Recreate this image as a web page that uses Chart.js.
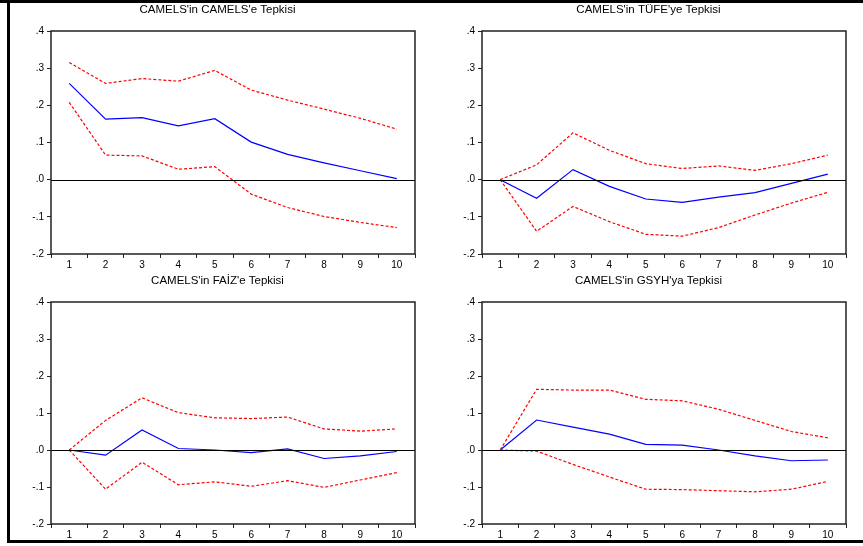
<!DOCTYPE html>
<html>
<head>
<meta charset="utf-8">
<script src="https://cdn.jsdelivr.net/npm/chart.js@4.4.1/dist/chart.umd.min.js"></script>
<style>
  html, body { margin: 0; padding: 0; background: #fff; overflow: hidden; }
  #page { position: relative; width: 863px; height: 546px; overflow: hidden; }
  #page canvas { position: absolute; }
  .frame { position: absolute; background: #000; }
</style>
</head>
<body>
<div id="page">
  <div class="frame" style="left:0;top:0;width:863px;height:3px"></div>
  <div class="frame" style="left:7px;top:0;width:3px;height:542px"></div>
  <div class="frame" style="left:7px;top:540px;width:856px;height:3px"></div>
  <canvas id="c1" style="left:20px;top:0px" width="426" height="273"></canvas>
  <canvas id="c2" style="left:451px;top:0px" width="426" height="273"></canvas>
  <canvas id="c3" style="left:20px;top:271px" width="426" height="272"></canvas>
  <canvas id="c4" style="left:451px;top:271px" width="426" height="272"></canvas>
</div>
<script>
// ---------------------------------------------------------
// DATA – impulse responses (point estimate + bands)
// ---------------------------------------------------------
const periods = ["1", "2", "3", "4", "5", "6", "7", "8", "9", "10"];

const camelsTitle = "CAMELS'in CAMELS'e Tepkisi";
const camelsResp  = [0.259, 0.163, 0.167, 0.145, 0.164, 0.101, 0.068, 0.045, 0.024, 0.003];
const camelsUpper = [0.315, 0.259, 0.272, 0.265, 0.294, 0.241, 0.214, 0.190, 0.165, 0.136];
const camelsLower = [0.208, 0.066, 0.064, 0.028, 0.035, -0.039, -0.075, -0.099, -0.115, -0.129];

const tufeTitle = "CAMELS'in TÜFE'ye Tepkisi";
const tufeResp  = [0, -0.050, 0.027, -0.018, -0.052, -0.061, -0.047, -0.035, -0.010, 0.015];
const tufeUpper = [0, 0.040, 0.126, 0.079, 0.043, 0.030, 0.037, 0.025, 0.043, 0.066];
const tufeLower = [0, -0.139, -0.072, -0.113, -0.147, -0.152, -0.129, -0.095, -0.063, -0.034];

const faizTitle = "CAMELS'in FAİZ'e Tepkisi";
const faizResp  = [0, -0.014, 0.054, 0.004, 0.000, -0.007, 0.003, -0.023, -0.016, -0.004];
const faizUpper = [0, 0.080, 0.141, 0.101, 0.087, 0.085, 0.089, 0.057, 0.051, 0.057];
const faizLower = [0, -0.106, -0.033, -0.094, -0.086, -0.098, -0.083, -0.101, -0.081, -0.061];

const gsyhTitle = "CAMELS'in GSYH'ya Tepkisi";
const gsyhResp  = [0, 0.081, 0.062, 0.043, 0.015, 0.013, 0.000, -0.016, -0.029, -0.027];
const gsyhUpper = [0, 0.164, 0.162, 0.162, 0.137, 0.133, 0.110, 0.080, 0.050, 0.033];
const gsyhLower = [0, -0.003, -0.039, -0.073, -0.106, -0.107, -0.110, -0.113, -0.106, -0.085];

const yTicks = [-0.2, -0.1, 0, 0.1, 0.2, 0.3, 0.4];

// ---------------------------------------------------------
// HELPERS
// ---------------------------------------------------------
const FONT = "Arial, 'Liberation Sans', sans-serif";

function fmtTick(v) {
  if (Math.abs(v) < 1e-9) return ".0";
  return v.toFixed(1).replace("0.", ".");
}

// box around plot area + zero line
const frameAndZero = {
  id: "frameAndZero",
  afterDatasetsDraw(chart) {
    const { ctx, chartArea: a, scales } = chart;
    const y0 = scales.y.getPixelForValue(0);
    ctx.save();
    ctx.strokeStyle = "#000";
    ctx.lineWidth = 1;
    ctx.beginPath();
    ctx.moveTo(a.left, Math.round(y0) + 0.5);
    ctx.lineTo(a.right, Math.round(y0) + 0.5);
    ctx.stroke();
    ctx.lineWidth = 1.5;
    ctx.strokeStyle = "#222";
    ctx.strokeRect(a.left, a.top, a.right - a.left, a.bottom - a.top);
    ctx.restore();
  }
};

function drawPanel(id, title, resp, upper, lower) {
  new Chart(document.getElementById(id), {
    type: "line",
    data: {
      labels: periods,
      datasets: [
        { data: upper, borderColor: "#ff0000", borderWidth: 1.2, borderDash: [3, 2] },
        { data: lower, borderColor: "#ff0000", borderWidth: 1.2, borderDash: [3, 2] },
        { data: resp, borderColor: "#0000ff", borderWidth: 1.2 }
      ]
    },
    options: {
      responsive: false,
      animation: false,
      elements: { point: { radius: 0 }, line: { tension: 0 } },
      layout: { padding: { left: 0, right: 31, top: 0, bottom: 0 } },
      plugins: {
        legend: { display: false },
        tooltip: { enabled: false },
        title: {
          display: true,
          text: title,
          color: "#000",
          font: { family: FONT, size: 11.5, weight: "normal", lineHeight: 1.2 },
          padding: { top: 2.5, bottom: 14.7 }
        }
      },
      scales: {
        x: {
          offset: true,
          grid: { offset: true, drawOnChartArea: false, tickLength: 4, color: "#222" },
          border: { display: false },
          ticks: { color: "#000", font: { family: FONT, size: 10 }, padding: 1, maxRotation: 0 },
          afterFit(s) { s.height = 19; }
        },
        y: {
          min: -0.2,
          max: 0.4,
          afterBuildTicks(s) { s.ticks = yTicks.map(v => ({ value: v })); },
          grid: { drawOnChartArea: false, tickLength: 4, color: "#222" },
          border: { display: false },
          ticks: { color: "#000", font: { family: FONT, size: 10 }, padding: 3, callback: v => fmtTick(v) },
          afterFit(s) { s.width = 31; }
        }
      }
    },
    plugins: [frameAndZero]
  });
}

// ---------------------------------------------------------
// INIT
// ---------------------------------------------------------
drawPanel("c1", camelsTitle, camelsResp, camelsUpper, camelsLower);
drawPanel("c2", tufeTitle, tufeResp, tufeUpper, tufeLower);
drawPanel("c3", faizTitle, faizResp, faizUpper, faizLower);
drawPanel("c4", gsyhTitle, gsyhResp, gsyhUpper, gsyhLower);
</script>
</body>
</html>
